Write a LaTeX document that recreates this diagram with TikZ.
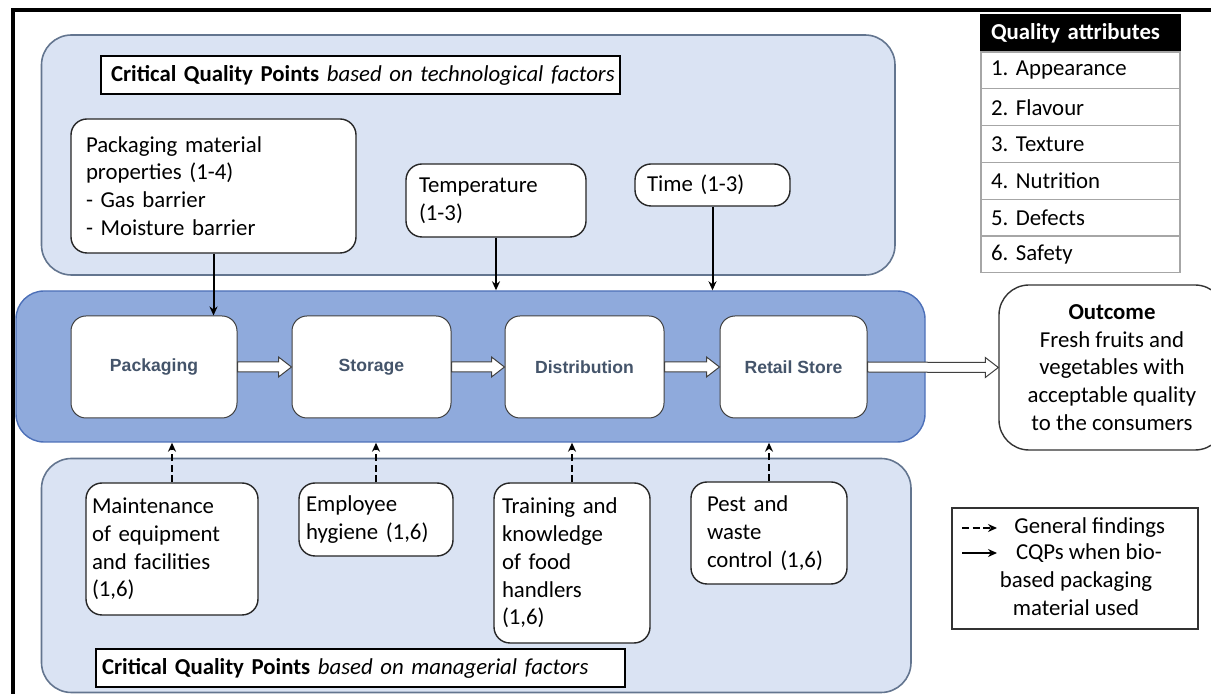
\documentclass[tikz,border=0pt]{standalone}
\usepackage{fontspec}
\setmainfont{Carlito}
\newfontfamily\procfont{Liberation Sans}
\usetikzlibrary{arrows.meta,calc}
\AtBeginDocument{\frenchspacing}
\definecolor{panelfill}{HTML}{DAE3F3}
\definecolor{panelborder}{HTML}{63758F}
\definecolor{midfill}{HTML}{8FAADC}
\definecolor{midborder}{HTML}{4D70B8}
\definecolor{proctext}{HTML}{44546A}
\definecolor{cellborder}{HTML}{A6A6A6}
\newcommand\blockarr[2]{\draw[blockarrow] ($(#1.east)+(0,-5)$) -- ($(#2.west)+(-13,-5)$) -- ($(#2.west)+(-13,-10)$) -- (#2.west) -- ($(#2.west)+(-13,10)$) -- ($(#2.west)+(-13,5)$) -- ($(#1.east)+(0,5)$) -- cycle;}
\begin{document}
\begin{tikzpicture}[x=0.5pt,y=-0.5pt,
  every node/.style={font=\frenchspacing\fontsize{11.4pt}{13.9pt}\selectfont},
  panel/.style={draw=panelborder, fill=panelfill, line width=0.8pt, rounded corners=15pt, inner sep=0pt},
  midpanel/.style={draw=midborder, fill=midfill, line width=0.7pt, rounded corners=14pt, inner sep=0pt},
  wbox/.style={draw=black!85, fill=white, line width=0.7pt, rounded corners=8pt, align=left, inner ysep=1pt},
  proc/.style={draw=black!75, fill=white, line width=0.5pt, rounded corners=7.5pt, minimum height=51pt, inner sep=0pt,
     font=\procfont\bfseries\fontsize{8.8pt}{10pt}\selectfont, text=proctext},
  titlebox/.style={draw=black, fill=white, line width=0.75pt, align=left, minimum height=19pt, inner ysep=0pt},
  cell/.style={draw=cellborder, fill=white, line width=0.6pt, minimum height=18.4pt, text width=89.5pt, inner xsep=5pt, inner ysep=0pt, align=left},
  solidarrow/.style={-{Stealth[length=4.5pt,width=4pt]}, line width=1pt},
  dasharrow/.style={-{Stealth[length=4.5pt,width=4pt]}, line width=1pt, dash pattern=on 3.5pt off 1.8pt},
  blockarrow/.style={draw=black!75, fill=white, line width=0.5pt, line join=miter}
]
\useasboundingbox (0,0) rectangle (1211,694);
% outer frame
\draw[line width=2pt] (13,700) -- (13,10) -- (1215,10);

% panels
\node[panel, minimum width=426.75pt, minimum height=120pt] (tech) at (468.25,155) {};
\node[panel, minimum width=434.75pt, minimum height=117pt] (man) at (476.25,575.5) {};
\node[midpanel, minimum width=454.5pt, minimum height=75.5pt] (mid) at (470.5,366.5) {};

% title boxes
\node[titlebox, text width=249.5pt, inner xsep=5pt] (ttech) at (360.5,75) {\mbox{\textbf{Critical Quality Points} \textit{based on technological factors}}};
\node[titlebox, text width=258.5pt, inner xsep=3pt] (tman) at (360.5,668) {\mbox{\textbf{Critical Quality Points} \textit{based on managerial factors}}};

% technological factor boxes
\node[wbox, text width=127.5pt, inner xsep=7.5pt, minimum height=67pt] (pm) at (213.5,186) {Packaging material\\properties (1-4)\\- Gas barrier\\- Moisture barrier};
\node[wbox, text width=77pt, inner xsep=6.5pt, minimum height=36.5pt] (temp) at (496,200.5) {Temperature\\(1-3)};
\node[wbox, text width=65.5pt, inner xsep=6pt, minimum height=21pt] (time) at (712.5,185) {Time (1-3)};

% process boxes
\node[proc, minimum width=83pt] (pack) at (154,367) {Packaging};
\node[proc, minimum width=79.5pt] (stor) at (371.5,367) {Storage};
\node[proc, minimum width=79.5pt] (dist) at (584.5,367) {Distribution};
\node[proc, minimum width=73.5pt] (ret) at (793.5,367) {Retail Store};

% outcome
\node[draw=black!80, fill=white, line width=0.7pt, rounded corners=15pt, align=center, minimum width=113pt, minimum height=82.5pt, inner sep=0pt] (out) at (1112,367.5)
  {\textbf{Outcome}\\Fresh fruits and\\vegetables with\\acceptable quality\\to the consumers};

% managerial factor boxes
\node[wbox, text width=80pt, inner xsep=3pt, minimum height=66pt] (maint) at (172,549) {Maintenance\\of equipment\\and facilities\\(1,6)};
\node[wbox, text width=70pt, inner xsep=3.5pt, minimum height=36.5pt] (emp) at (376,519.5) {Employee\\hygiene (1,6)};
\node[wbox, text width=70pt, inner xsep=4pt, minimum height=80pt] (train) at (572,563) {Training and\\knowledge\\of food\\handlers\\(1,6)};
\node[wbox, text width=62pt, inner xsep=8pt, minimum height=51pt] (pest) at (769,533) {Pest and\\waste\\control (1,6)};

% block arrows
\blockarr{pack}{stor}
\blockarr{stor}{dist}
\blockarr{dist}{ret}
\blockarr{ret}{out}

% solid arrows
\draw[solidarrow] (pm.south) -- (pm.south |- pack.north);
\draw[solidarrow] (temp.south) -- (temp.south |- mid.north);
\draw[solidarrow] (time.south) -- (time.south |- mid.north);

% dashed arrows
\draw[dasharrow] (maint.north) -- (maint.north |- mid.south);
\draw[dasharrow] (emp.north) -- (emp.north |- mid.south);
\draw[dasharrow] (train.north) -- (train.north |- mid.south);
\draw[dasharrow] (pest.north) -- (pest.north |- mid.south);

% quality attributes table
\node[cell, fill=black, draw=black, text=white, font=\frenchspacing\bfseries\fontsize{11.4pt}{13.9pt}\selectfont] (qa0) at (1080.5,33.5) {Quality attributes};
\node[cell] (qa1) at (1080.5,70.4) {1. Appearance};
\node[cell] (qa2) at (1080.5,107.2) {2. Flavour};
\node[cell] (qa3) at (1080.5,144.0) {3. Texture};
\node[cell] (qa4) at (1080.5,180.8) {4. Nutrition};
\node[cell] (qa5) at (1080.5,217.6) {5. Defects};
\node[cell] (qa6) at (1080.5,254.4) {6. Safety};

% legend
\node[draw=black!80, fill=white, line width=0.7pt, minimum width=123pt, minimum height=60.5pt, inner sep=0pt] (legend) at (1075,568.5) {};
\coordinate (la1) at (962,528);
\coordinate (lb1) at (997,528);
\coordinate (la2) at (962,553);
\coordinate (lb2) at (997,553);
\draw[dasharrow] (la1) -- (lb1);
\draw[solidarrow] (la2) -- (lb2);
\node[anchor=west, inner sep=0pt] (lt1) at (1014,528) {General findings};
\node[align=center, inner sep=0pt] (lt2) at (1076,579.5) {\hspace*{13pt}CQPs when bio-\\based packaging\\material used};
\end{tikzpicture}
\end{document}
